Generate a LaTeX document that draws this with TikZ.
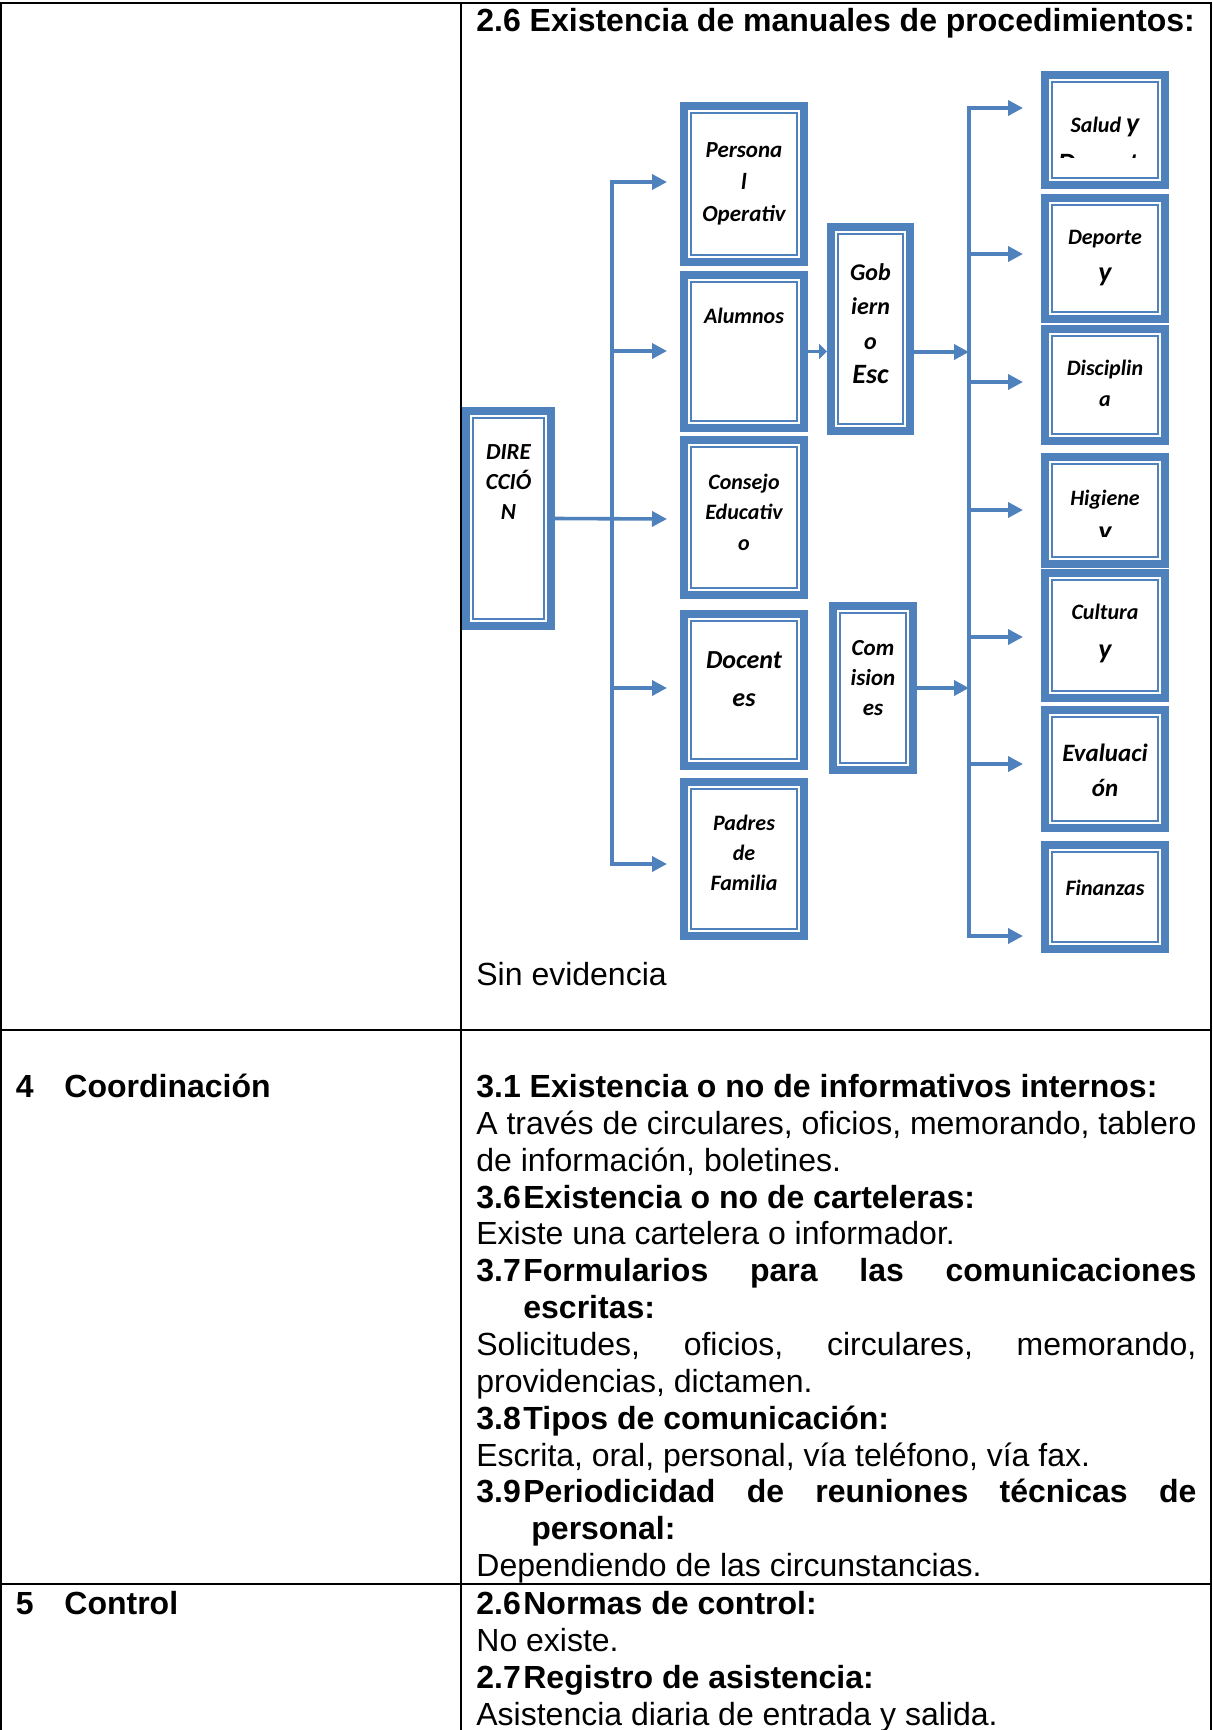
\documentclass[tikz,border=0pt]{standalone}
\usepackage{fontspec}
\setmainfont{Liberation Sans}
\newfontfamily\boxfont{Carlito}
\usepackage{tikz}
\usetikzlibrary{arrows.meta, calc, positioning}

\definecolor{boxblue}{HTML}{4F81BD}

\tikzset{
  orgbox/.style={draw=boxblue, line width=4pt, fill=white, inner sep=0pt,
    outer sep=2pt,
    path picture={\draw[boxblue, line width=1.25pt]
      ([shift={(3.6pt,-3.6pt)}]path picture bounding box.north west) rectangle
      ([shift={(-3.6pt,3.6pt)}]path picture bounding box.south east);}},
  bsize/.style 2 args={font=\boxfont\bfseries\itshape\fontsize{#1}{#2}\selectfont},
  boxtext/.style={bsize={11}{14pt}, align=center, inner sep=0pt},
  link/.style={draw=boxblue, line width=1.8pt,
    -{Triangle[length=7.5pt,width=7.5pt]}},
  elbow/.style={to path={|- (\tikztotarget)}},
  rule/.style={line width=1pt, line cap=rect},
  cell/.style={anchor=base west, inner sep=0pt, font=\fontsize{16}{18.4}\selectfont},
  head/.style={cell, font=\bfseries\fontsize{16}{18.4}\selectfont},
}
\newcommand{\bigy}{{\fontsize{14}{14}\selectfont y}}
\newcommand{\numlbl}[1]{\makebox[23.5pt][l]{#1}}

\begin{document}
\begin{tikzpicture}[x=0.5pt, y=-0.5pt]
  \useasboundingbox (0,0) rectangle (1213,1730);

  % table rules
  \draw[rule] (1,3) -- (1211,3);
  \draw[rule] (1,1030) -- (1211,1030);
  \draw[rule] (1,1584) -- (1211,1584);
  \foreach \xx in {1,461,1211}
    \draw[rule] (\xx,3) -- (\xx,1730);

  % organigram boxes
  \node[orgbox, minimum width=42.5pt, minimum height=107.5pt] (dir) at (508.5,518.5) {};
  \node[orgbox, minimum width=60pt, minimum height=78pt]    (pers) at (744,184) {};
  \node[orgbox, minimum width=60pt, minimum height=76.5pt]  (alum) at (744,351.5) {};
  \node[orgbox, minimum width=60pt, minimum height=77.5pt]  (cons) at (744,517.5) {};
  \node[orgbox, minimum width=60pt, minimum height=76pt]    (doc)  at (744,690) {};
  \node[orgbox, minimum width=60pt, minimum height=77pt]    (pad)  at (744,859) {};
  \node[orgbox, minimum width=39.5pt, minimum height=102pt] (gob)  at (870.5,329) {};
  \node[orgbox, minimum width=40pt, minimum height=82pt]    (com)  at (873,688) {};
  \node[orgbox, minimum width=60pt, minimum height=55pt]    (sal)  at (1105,130) {};
  \node[orgbox, minimum width=60pt, minimum height=60.5pt]  (dep)  at (1105,258.5) {};
  \node[orgbox, minimum width=60pt, minimum height=56pt]    (dis)  at (1105,385) {};
  \node[orgbox, minimum width=60pt, minimum height=53.5pt]  (hig)  at (1105,510.5) {};
  \node[orgbox, minimum width=60pt, minimum height=62.5pt]  (cul)  at (1105,635.5) {};
  \node[orgbox, minimum width=60pt, minimum height=59pt]    (eva)  at (1105,769) {};
  \node[orgbox, minimum width=60pt, minimum height=52pt]    (fin)  at (1105,897) {};

  % box texts
  \node[boxtext, bsize={11.5}{15pt}] (dirt) at (508.5,482) {DIRE\\CCIÓ\\N};
  \node[boxtext, bsize={11.5}{16pt}] (perst) at (744,184) {Persona\\l\\Operativ};
  \node[boxtext, anchor=base] (alumt) at (744,323.7) {Alumnos};
  \node[boxtext, bsize={11}{15.2pt}] (const) at (744,512) {Consejo\\Educativ\\o};
  \node[boxtext, bsize={13}{18.7pt}] (doct) at (744,679) {Docent\\es};
  \node[boxtext, bsize={11}{15pt}] (padt) at (744,853) {Padres\\de\\Familia};
  \node[boxtext, bsize={12}{17.2pt}] (gobt) at (870.5,323.5)
    {Gob\\iern\\o\\{\fontsize{14}{14}\selectfont Esc}};
  \node[boxtext, bsize={11.5}{15pt}] (comt) at (873,678) {Com\\ision\\es};
  \node[boxtext, anchor=base] (salt) at (1105,132) {Salud \bigy};
  \node[boxtext, bsize={11}{18.5pt}] (dept) at (1105,258.5) {Deporte\\\bigy};
  \node[boxtext, bsize={11}{15.5pt}] (dist) at (1105,383.5) {Disciplin\\a};
  \node[boxtext, anchor=base] (higt) at (1105,505) {Higiene};
  \node[boxtext, bsize={11}{19.5pt}] (cult) at (1105,633.5) {Cultura\\\bigy};
  \node[boxtext, bsize={12.5}{17.3pt}] (evat) at (1105,770.5) {Evaluaci\\ón};
  \node[boxtext, anchor=base] (fint) at (1105,895) {Finanzas};
  % lines cut off by the boxes
  \begin{scope}
    \clip (1041,71) rectangle (1169,157.7);
    \node[boxtext, anchor=base, bsize={14}{14pt}] (salt2) at (1105,172) {Deporte};
  \end{scope}
  \begin{scope}
    \clip (1041,453) rectangle (1169,536);
    \node[boxtext, anchor=base, bsize={14}{14pt}] (higt2) at (1105,540) {y};
  \end{scope}

  % buses and arrow tips
  \coordinate (bus1) at (612,519);
  \coordinate (bus2a) at (969,352);
  \coordinate (bus2b) at (969,688);
  \coordinate (tc) at (667,519);
  \coordinate (tpers) at (667,182);
  \coordinate (talum) at (667,351);
  \coordinate (tdoc) at (667,688);
  \coordinate (tpad) at (667,864);
  \foreach \nm/\yy in {sal/108, dep/254, dis/382, hig/510, cul/637, eva/764, fin/936}
    \coordinate (t\nm) at (1023,\yy);

  % left bus
  \path
    (dir.east) edge[link] (tc)
    (bus1) edge[link, elbow] (tpers)
    (bus1) edge[link, elbow] (talum)
    (bus1) edge[link, elbow] (tdoc)
    (bus1) edge[link, elbow] (tpad);
  % right bus
  \path
    (alum.east) edge[link, -{Triangle[length=4pt,width=7.5pt]}] (alum.east -| gob.west)
    (gob.east |- bus2a) edge[link] (bus2a)
    (com.east) edge[link] (bus2b);
  \foreach \nm in {sal, dep, dis, hig, cul, eva, fin}
    \path (bus2a) edge[link, elbow] (t\nm);

  % table text
  \node[head] (h26) at (476,31) {2.6 Existencia de manuales de procedimientos:};
  \node[cell] (sinev) at (476,985) {Sin evidencia};
  \node[head] (n4) at (15.5,1097) {4};
  \node[head] (coord) at (64,1097) {Coordinación};
  \node[head] (h31) at (476,1097) {3.1 Existencia o no de informativos internos:};
  \node[cell] (l1) at (476,1134)
    {\makebox[360pt][s]{A través de circulares, oficios, memorando, tablero}};
  \node[cell] (l2) at (476,1171) {de información, boletines.};
  \node[head] (h36) at (476,1208) {\numlbl{3.6}Existencia o no de carteleras:};
  \node[cell] (l3) at (476,1244) {Existe una cartelera o informador.};
  \node[head] (h37) at (476,1281)
    {\numlbl{3.7}\makebox[336.5pt][s]{Formularios para las comunicaciones}};
  \node[head] (h37b) at (523,1318) {escritas:};
  \node[cell] (l4) at (476,1355)
    {\makebox[360pt][s]{Solicitudes, oficios, circulares, memorando,}};
  \node[cell] (l5) at (476,1392) {providencias, dictamen.};
  \node[head] (h38) at (476,1429) {\numlbl{3.8}Tipos de comunicación:};
  \node[cell] (l6) at (476,1466) {Escrita, oral, personal, vía teléfono, vía fax.};
  \node[head] (h39) at (476,1502)
    {\numlbl{3.9}\makebox[336.5pt][s]{Periodicidad de reuniones técnicas de}};
  \node[head] (h39b) at (531,1539) {personal:};
  \node[cell] (l7) at (476,1576) {Dependiendo de las circunstancias.};
  \node[head] (n5) at (15.5,1614) {5};
  \node[head] (ctrl) at (64,1614) {Control};
  \node[head] (h26b) at (476,1614) {\numlbl{2.6}Normas de control:};
  \node[cell] (l8) at (476,1651) {No existe.};
  \node[head] (h27) at (476,1688) {\numlbl{2.7}Registro de asistencia:};
  \node[cell] (l9) at (476,1725) {Asistencia diaria de entrada y salida.};
\end{tikzpicture}
\end{document}
